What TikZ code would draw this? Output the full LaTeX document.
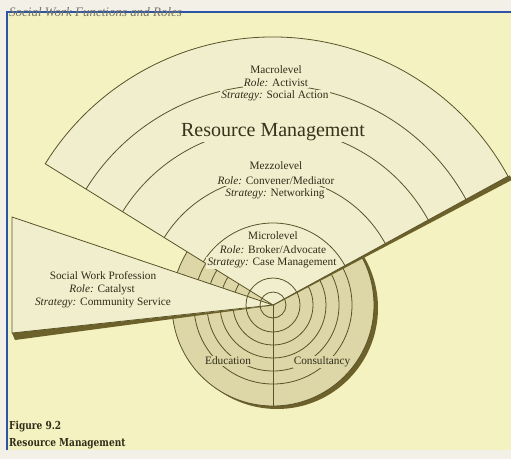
\documentclass[tikz,border=0pt]{standalone}
\usepackage{fontspec}
\setmainfont{Liberation Serif}
\newfontfamily\capfont{DejaVu Serif}
\usetikzlibrary{calc}
\definecolor{outerbg}{RGB}{243,240,232}
\definecolor{pagebg}{RGB}{244,242,192}
\definecolor{fanc}{RGB}{240,238,204}
\definecolor{discc}{RGB}{221,214,166}
\definecolor{linec}{RGB}{90,83,42}
\definecolor{shadc}{RGB}{108,97,42}
\definecolor{txtc}{RGB}{48,44,26}
\definecolor{framec}{RGB}{45,85,165}
\definecolor{headc}{RGB}{120,116,108}
\tikzset{
  ln/.style={draw=linec, line width=0.8pt},
  lbl/.style={font=\fontsize{11.3}{13}\selectfont, text=txtc, inner sep=1.2pt, fill=fanc},
  disclbl/.style={font=\fontsize{11.3}{13}\selectfont, text=txtc, inner sep=1.2pt, fill=discc},
  bigt/.style={font=\fontsize{20}{22}\selectfont, text=txtc!85!linec, inner sep=1.5pt, fill=fanc},
  capt/.style={font=\capfont\bfseries\fontsize{11}{12}\selectfont, text=txtc, anchor=west, inner sep=0pt},
}
\begin{document}
\begin{tikzpicture}[x=1pt,y=1pt]
\useasboundingbox (0,0) rectangle (511,-459);
\fill[outerbg] (0,0) rectangle (511,-459);
\fill[pagebg] (7,-12) rectangle (511,-450);
\coordinate (C) at (273,-305);
% disc with shadow
\fill[shadc] ($(C)+(4,-3)$) circle[radius=101];
\fill[discc] (C) circle[radius=101];
\foreach \r in {40,53,66,79} \draw[ln] (C) circle[radius=\r];
\draw[ln] (C) circle[radius=101];
\coordinate (Cb) at ($(C)+(0,-101)$);
\draw[ln] (C) -- (Cb);
\node[disclbl] (edu) at (228,-361) {Education};
\node[disclbl] (cons) at (322,-362) {Consultancy};
% fan shadow
\fill[shadc] ($(C)+(-61.3:0.6)$) -- ($(C)+(28.7:270)+(-61.3:5)$) -- ($(C)+(28.7:270)$) -- (C) -- cycle;
% fan
\path[fill=fanc, ln] (C) -- ($(C)+(28.7:268)$) arc[start angle=28.7, end angle=148.2, radius=268] -- cycle;
\foreach \r in {82,128,177,220}
  \draw[ln] ($(C)+(28.7:\r)$) arc[start angle=28.7, end angle=148.2, radius=\r];
% left sector
\fill[shadc] ($(C)+(0,-0.5)$) -- (12,-333) -- (15,-340) -- cycle;
\path[fill=fanc, ln] (C) -- (12,-217) -- (12,-333) -- cycle;
% inner circles
\foreach \r in {13,27} \draw[ln] (C) circle[radius=\r];
% fan texts
\node[lbl] (ma1) at (276,-70) {Macrolevel};
\node[lbl] (ma2) at (276,-83) {\textit{Role:} Activist};
\node[lbl] (ma3) at (275,-96) {\textit{Strategy:} Social Action};
\node[bigt] (rm) at (273,-132) {Resource Management};
\node[lbl] (me1) at (276,-166) {Mezzolevel};
\node[lbl] (me2) at (276,-181) {\textit{Role:} Convener/Mediator};
\node[lbl] (me3) at (275,-194) {\textit{Strategy:} Networking};
\node[lbl] (mi1) at (273,-236) {Microlevel};
\node[lbl] (mi2) at (273,-250) {\textit{Role:} Broker/Advocate};
\node[lbl] (mi3) at (272,-263) {\textit{Strategy:} Case Management};
\node[lbl] (sw1) at (103,-276) {Social Work Profession};
\node[lbl] (sw2) at (102,-290) {\textit{Role:} Catalyst};
\node[lbl] (sw3) at (103,-303) {\textit{Strategy:} Community Service};
% caption
\node[capt] (fig) at (9,-427) {\scalebox{0.82}[1]{Figure 9.2}};
\node[capt] (cap) at (9,-444) {\scalebox{0.82}[1]{Resource Management}};
% frame
\draw[framec, line width=2pt] (7,-450) -- (7,-12) -- (511,-12);
% header
\node[anchor=west, inner sep=0pt, text=headc, font=\itshape\fontsize{13}{14}\selectfont] (hd) at (9,-12) {Social Work Functions and Roles};
\end{tikzpicture}
\end{document}
